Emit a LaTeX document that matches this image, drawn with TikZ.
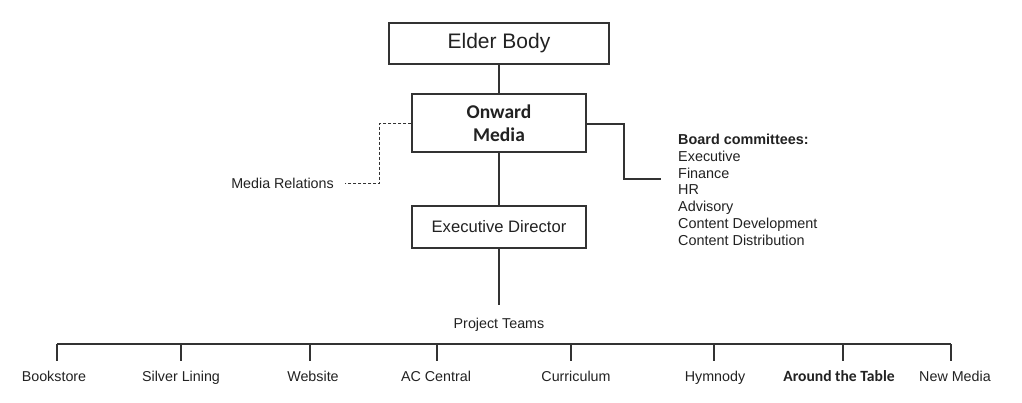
\documentclass[tikz,border=0pt]{standalone}
\usepackage{fontspec}
\setmainfont{Liberation Sans}
\newfontfamily\calb{Carlito}
\definecolor{txt}{HTML}{222222}
\definecolor{ln}{HTML}{333333}
\begin{document}
\begin{tikzpicture}[x=1pt,y=-1pt,
  box/.style={draw=ln,line width=1.1pt,rectangle,inner sep=0pt,align=center,text=txt},
  conn/.style={draw=ln,line width=1.3pt},
  dconn/.style={draw=ln,line width=1pt,dash pattern=on 3pt off 2pt},
  lbl/.style={font=\fontsize{14.3}{17}\selectfont,anchor=base,inner sep=0pt,text=txt},
  tick/.style={draw=ln,line width=1.3pt}]
\useasboundingbox[fill=white] (0,0) rectangle (1022,403);
% boxes
\node[box,minimum width=220pt,minimum height=41pt,font=\fontsize{21}{24}\selectfont] (elder) at (499,43.5) {Elder Body};
\node[box,minimum width=174pt,minimum height=58pt,font=\calb\bfseries\fontsize{19.5}{22.7}\selectfont] (onward) at (499,123) {Onward\\Media};
\node[box,minimum width=174pt,minimum height=42pt,font=\fontsize{16.6}{19}\selectfont] (exec) at (499,227) {Executive Director};
\draw[conn] (elder.south) -- (onward.north);
\draw[conn] (onward.south) -- (exec.north);
% media relations
\node[lbl,anchor=base east] (media) at (334,189) {Media Relations};
\coordinate (d1) at (379,124);
\coordinate (d2) at (379,184);
\coordinate (d3) at (345,184);
\draw[dconn] (onward.west |- d1) -- (d1) -- (d2) -- (d3);
% board committees
\node[anchor=north west,inner sep=0pt,align=left,text=txt,font=\fontsize{14.4}{16.95}\selectfont] (board) at (678,133.5)
  {\textbf{Board committees:}\\Executive\\Finance\\HR\\Advisory\\Content Development\\Content Distribution};
\coordinate (b1) at (624,124);
\coordinate (b2) at (624,179);
\coordinate (b3) at (661,179);
\draw[conn,line width=1.1pt] (onward.east |- b1) -- (b1) -- (b2) -- (b3);
% project teams
\coordinate (pt) at (499,305);
\draw[conn] (exec.south) -- (pt);
\node[lbl] (teams) at (499,328) {Project Teams};
\coordinate (barL) at (57,344);
\coordinate (barR) at (951,344);
\draw[conn] (barL) -- (barR);
% team labels
\node[lbl] (t1) at (54,381) {Bookstore};
\node[lbl] (t2) at (181,381) {Silver Lining};
\node[lbl] (t3) at (313,381) {Website};
\node[lbl] (t4) at (436,381) {AC Central};
\node[lbl] (t5) at (576,381) {Curriculum};
\node[lbl] (t6) at (715,381) {Hymnody};
\node[lbl,font=\calb\bfseries\fontsize{15.6}{18}\selectfont] (t7) at (839,381) {Around the Table};
\node[lbl] (t8) at (955,381) {New Media};
\foreach \x/\n in {57/1,181/2,310/3,437/4,571/5,714/6,843/7,951/8}{
  \coordinate (k\n) at (\x,344);
  \coordinate (e\n) at (\x,361);
  \draw[tick] (k\n) -- (e\n);
}
\end{tikzpicture}
\end{document}
